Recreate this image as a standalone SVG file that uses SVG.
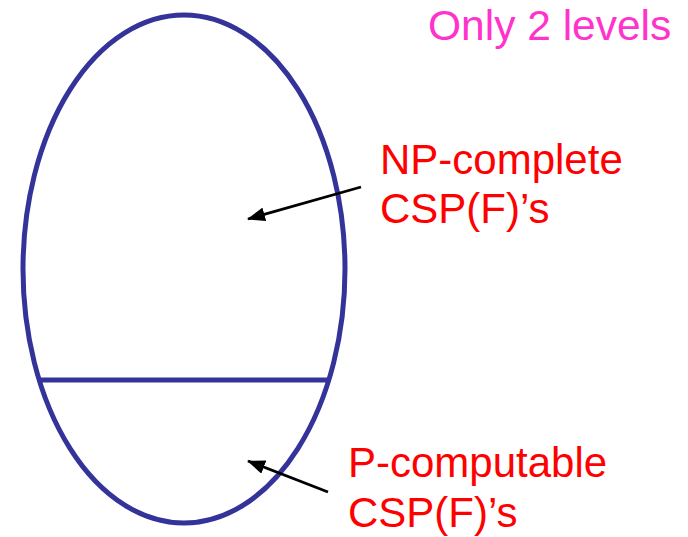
<svg xmlns="http://www.w3.org/2000/svg" width="688" height="537" viewBox="0 0 688 537">
<defs>
<marker id="ah" markerWidth="18" markerHeight="14" refX="17" refY="7" orient="auto" markerUnits="userSpaceOnUse">
<path d="M0,0 L18,7 L0,14 Z" fill="#000"/>
</marker>
<style>
.shape{fill:none;stroke:#333399;stroke-width:5}
.lbl{font-family:"Liberation Sans",Arial,sans-serif;font-size:42px;fill:#FF0000}
.note{font-family:"Liberation Sans",Arial,sans-serif;font-size:42.5px;fill:#FF33CC}
.conn{stroke:#000;stroke-width:2.8;fill:none}
</style>
</defs>
<rect width="688" height="537" fill="#fff"/>
<g id="region">
<ellipse class="shape" cx="184" cy="269" rx="161" ry="254"/>
<line class="shape" x1="41" y1="380" x2="328" y2="380"/>
</g>
<g id="note"><text class="note" x="428" y="40">Only 2 levels</text></g>
<g id="np"><text class="lbl" x="380" y="174">NP-complete</text><text class="lbl" x="380" y="223">CSP(F)’s</text></g>
<g id="p"><text class="lbl" x="348" y="477">P-computable</text><text class="lbl" x="348" y="527">CSP(F)’s</text></g>
<g id="connectors">
<line class="conn" x1="361" y1="187" x2="248" y2="219" marker-end="url(#ah)"/>
<line class="conn" x1="328" y1="492" x2="248" y2="461" marker-end="url(#ah)"/>
</g>
</svg>
